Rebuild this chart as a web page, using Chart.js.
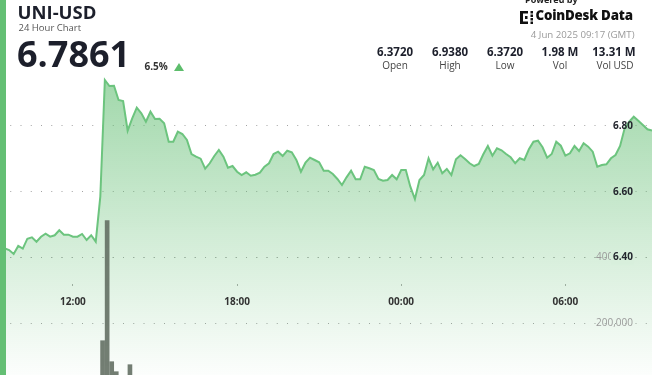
<!DOCTYPE html>
<html>
<head>
<meta charset="utf-8">
<script src="https://cdn.jsdelivr.net/npm/chart.js@4.4.0/dist/chart.umd.min.js"></script>
<style>
html,body{margin:0;padding:0;background:#fff;}
#wrap{position:relative;width:652px;height:375px;overflow:hidden;font-family:"Open Sans",sans-serif;}
#c{position:absolute;left:0;top:0;}
.t{position:absolute;line-height:1;white-space:nowrap;}
.col{position:absolute;width:60px;text-align:center;line-height:1;white-space:nowrap;}
#bar{position:absolute;left:0;top:0;width:6px;height:375px;background:#64bf74;}
#tri{position:absolute;left:174px;top:62.7px;width:0;height:0;border-left:5px solid transparent;border-right:5px solid transparent;border-bottom:8px solid #5dbd6c;}
</style>
</head>
<body>
<div id="wrap">
  <canvas id="c" width="652" height="375"></canvas>

  <div class="t" style="left:17.5px;top:2.9px;font-size:18.5px;font-weight:700;color:#1c1f2b;">UNI-USD</div>
  <div class="t" style="left:18.5px;top:23.3px;font-size:9.5px;color:#555;">24 Hour Chart</div>
  <div class="t" style="left:17px;top:36.3px;font-size:36px;font-weight:700;color:#1c1f2b;">6.7861</div>
  <div class="t" style="left:144.5px;top:61.1px;font-size:10px;font-weight:700;color:#333;">6.5%</div>
  <div id="tri"></div>

  <div class="t" style="left:525px;top:-5px;font-size:9px;font-weight:700;color:#222;">Powered by</div>
  <svg style="position:absolute;left:520px;top:11px;" width="14" height="13" viewBox="0 0 14 13">
    <rect x="0" y="0" width="3" height="13" fill="#111"/>
    <rect x="0" y="0" width="8" height="2.5" fill="#111"/>
    <rect x="0" y="10.5" width="8" height="2.5" fill="#111"/>
    <rect x="5" y="5" width="2.5" height="3" fill="#111"/>
    <rect x="10.5" y="0" width="2.5" height="2.5" fill="#111"/>
    <rect x="10.5" y="3.5" width="2.5" height="2.5" fill="#111"/>
    <rect x="10.5" y="7" width="2.5" height="2.5" fill="#111"/>
    <rect x="10.5" y="10.5" width="2.5" height="2.5" fill="#111"/>
  </svg>
  <div class="t" style="left:535.5px;top:8.9px;font-size:13.3px;font-weight:800;color:#111;letter-spacing:-0.2px;">CoinDesk Data</div>
  <div class="t" style="right:17.5px;top:29.8px;font-size:9.7px;color:#9a9a9a;text-align:right;">4 Jun 2025 09:17 (GMT)</div>

  <div class="col" style="left:365px;top:45.8px;font-size:11.5px;font-weight:700;color:#1c1f2b;">6.3720</div>
  <div class="col" style="left:420px;top:45.8px;font-size:11.5px;font-weight:700;color:#1c1f2b;">6.9380</div>
  <div class="col" style="left:475px;top:45.8px;font-size:11.5px;font-weight:700;color:#1c1f2b;">6.3720</div>
  <div class="col" style="left:530px;top:45.8px;font-size:11.5px;font-weight:700;color:#1c1f2b;">1.98 M</div>
  <div class="col" style="left:584px;top:45.8px;font-size:11.5px;font-weight:700;color:#1c1f2b;">13.31 M</div>
  <div class="col" style="left:365px;top:59.6px;font-size:10px;color:#444;">Open</div>
  <div class="col" style="left:420px;top:59.6px;font-size:10px;color:#444;">High</div>
  <div class="col" style="left:475px;top:59.6px;font-size:10px;color:#444;">Low</div>
  <div class="col" style="left:530px;top:59.6px;font-size:10px;color:#444;">Vol</div>
  <div class="col" style="left:585px;top:59.6px;font-size:10px;color:#444;">Vol USD</div>

  <div id="bar"></div>
</div>

<script>
// ---- data (10-minute samples, minutes since 00:00 on 3 Jun 2025) ----
const startMinute = 560;   // 09:20
const stepMinutes = 10;

const prices = [
  6.425, 6.428, 6.4225, 6.4104, 6.4347, 6.4265, 6.4569, 6.4612, 6.4478, 6.4630,
  6.4721, 6.4630, 6.4673, 6.4825, 6.4691, 6.4691, 6.4630, 6.4630, 6.4712, 6.4530,
  6.4673, 6.4478, 6.5848, 6.9400, 6.9218, 6.9227, 6.8791, 6.8761, 6.7857, 6.8234,
  6.8557, 6.8387, 6.8131, 6.8435, 6.8213, 6.8222, 6.8082, 6.7522, 6.7522, 6.7826,
  6.7756, 6.7574, 6.7148, 6.7065, 6.7005, 6.6700, 6.6865, 6.7087, 6.7269, 6.7065,
  6.6731, 6.6782, 6.6609, 6.6508, 6.6591, 6.6487, 6.6518, 6.6578, 6.6761, 6.6865,
  6.7148, 6.7218, 6.7087, 6.7248, 6.7199, 6.6965, 6.6609, 6.6883, 6.7035, 6.6965,
  6.6895, 6.6639, 6.6639, 6.6539, 6.6387, 6.6204, 6.6438, 6.6639, 6.6377, 6.6377,
  6.6761, 6.6712, 6.6661, 6.6387, 6.6335, 6.6356, 6.6508, 6.6377, 6.6661, 6.6661,
  6.6152, 6.5778, 6.6356, 6.6508, 6.7017, 6.6682, 6.6883, 6.6560, 6.6691, 6.6508,
  6.6986, 6.7108, 6.6995, 6.6865, 6.6782, 6.6843, 6.7139, 6.7391, 6.7096, 6.7321,
  6.7260, 6.7148, 6.7047, 6.6865, 6.7017, 6.6965, 6.7291, 6.7522, 6.7553, 6.7352,
  6.7035, 6.7148, 6.7522, 6.7400, 6.7096, 6.7169, 6.7391, 6.7239, 6.7473, 6.7370,
  6.7218, 6.6761, 6.6813, 6.6834, 6.7017, 6.7117, 6.7391, 6.7930, 6.8131, 6.8283,
  6.8161, 6.8030, 6.7900, 6.7861
];

const volumes = [
  9800, 6400, 12300, 7100, 5200, 8800, 14600, 6900, 4300, 7600,
  11200, 5900, 8100, 13400, 6200, 4800, 7300, 9900, 5600, 12800,
  8400, 21500, 147100, 511900, 83300, 52900, 36400, 28700, 74200, 31800,
  24600, 19300, 27100, 16800, 14200, 22400, 11900, 25300, 13600, 10200,
  15700, 9400, 18900, 12100, 8700, 16300, 7900, 11400, 6800, 9200,
  13700, 5400, 8100, 10600, 4700, 7300, 6100, 9800, 12400, 5800,
  14900, 8300, 6600, 10100, 4900, 7700, 11800, 6300, 5100, 4200,
  6900, 8800, 3900, 5600, 9700, 12600, 7400, 4600, 8200, 5300,
  6700, 3800, 4400, 7100, 5900, 3600, 4800, 6200, 5000, 3400,
  10900, 16200, 9100, 6400, 11300, 7800, 5200, 6600, 4100, 5700,
  8900, 7200, 4500, 5300, 3900, 4700, 8400, 9600, 6100, 7300,
  5500, 4300, 3700, 6800, 5100, 4000, 7900, 10400, 8600, 6300,
  5800, 4600, 9300, 7000, 5400, 4200, 6900, 5000, 7600, 6000,
  4800, 8700, 5600, 4400, 6500, 7400, 9900, 17800, 14300, 12100,
  9500, 7700, 6200, 5300
];

const priceTickValues = [6.40, 6.60, 6.80];
const volTickValues = [200000, 400000];
const xTickValues = [720, 1080, 1440, 1800];
const xTickLabels = ['12:00', '18:00', '00:00', '06:00'];

const times = prices.map((_, i) => startMinute + i * stepMinutes);

// ---- styling ----
const GREEN = '99,190,115';
const priceBackdrops = ['rgb(216,239,220)', 'rgb(198,231,203)', 'rgba(255,255,255,0)'];

function fillGradient(ctx) {
  const chart = ctx.chart;
  const area = chart.chartArea;
  if (!area) return 'rgba(' + GREEN + ',0.3)';
  const g = chart.ctx.createLinearGradient(0, 80, 0, area.bottom);
  g.addColorStop(0, 'rgba(' + GREEN + ',0.6)');
  g.addColorStop(1, 'rgba(' + GREEN + ',0.02)');
  return g;
}

function zeroWidth(s) { s.width = 0; s.paddingTop = 0; s.paddingBottom = 0; }
function zeroHeight(s) { s.height = 0; s.paddingLeft = 0; s.paddingRight = 0; }

const gridDash = [1, 9.25];

new Chart(document.getElementById('c'), {
  type: 'line',
  data: {
    datasets: [
      {
        type: 'bar',
        // each volume bar covers its 10-minute interval (centred mid-interval)
        data: times.map((t, i) => ({ x: t + stepMinutes / 2, y: volumes[i] })),
        xAxisID: 'x',
        yAxisID: 'yVol',
        backgroundColor: 'rgba(100,112,100,0.9)',
        borderWidth: 0,
        barThickness: 4,
        categoryPercentage: 1,
        barPercentage: 1
      },
      {
        type: 'line',
        data: times.map((t, i) => ({ x: t, y: prices[i] })),
        xAxisID: 'x',
        yAxisID: 'y',
        borderColor: '#6cc47e',
        borderWidth: 2,
        pointRadius: 0,
        tension: 0,
        fill: 'start',
        backgroundColor: fillGradient
      }
    ]
  },
  options: {
    responsive: false,
    animation: false,
    events: [],
    layout: { padding: 0 },
    plugins: { legend: { display: false }, tooltip: { enabled: false } },
    scales: {
      x: {
        type: 'linear',
        min: times[0],
        max: times[times.length - 1],
        offset: false,
        position: { y: 6.31903 },
        grid: { drawOnChartArea: false, drawTicks: true, tickLength: 2, tickColor: '#aaaaaa', tickWidth: 1, offset: false },
        border: { display: false },
        ticks: {
          z: 1,
          padding: 10,
          autoSkip: false,
          maxRotation: 0,
          color: '#333',
          font: { family: 'Open Sans', size: 10, weight: 'bold' },
          callback: (v) => { const i = xTickValues.indexOf(v); return i >= 0 ? xTickLabels[i] : ''; }
        },
        afterBuildTicks: (s) => { s.ticks = xTickValues.map(v => ({ value: v })); },
        afterFit: zeroHeight
      },
      yVol: {
        type: 'linear',
        position: 'right',
        min: 42857,
        max: 1182675,
        grid: { color: '#a3a3a3', lineWidth: 1, drawTicks: false },
        border: { display: false, dash: gridDash },
        ticks: {
          z: 1,
          mirror: true,
          padding: -19,
          color: '#9a9a9a',
          font: { family: 'Open Sans', size: 10 },
          callback: (v) => v.toLocaleString('en-US')
        },
        afterBuildTicks: (s) => { s.ticks = volTickValues.map(v => ({ value: v })); },
        afterFit: zeroWidth
      },
      y: {
        type: 'linear',
        position: 'right',
        min: 6.04201,
        max: 7.18356,
        grid: { color: '#a3a3a3', lineWidth: 1, drawTicks: false },
        border: { display: false, dash: gridDash },
        ticks: {
          z: 2,
          mirror: true,
          padding: -19,
          color: '#23262e',
          font: { family: 'Open Sans', size: 10, weight: 'bold' },
          showLabelBackdrop: true,
          backdropColor: (ctx) => priceBackdrops[ctx.index] || 'rgba(0,0,0,0)',
          backdropPadding: { left: 2, right: 1, top: 1, bottom: 1 },
          callback: (v) => v.toFixed(2)
        },
        afterBuildTicks: (s) => { s.ticks = priceTickValues.map(v => ({ value: v })); },
        afterFit: zeroWidth
      }
    }
  }
});
</script>
</body>
</html>
